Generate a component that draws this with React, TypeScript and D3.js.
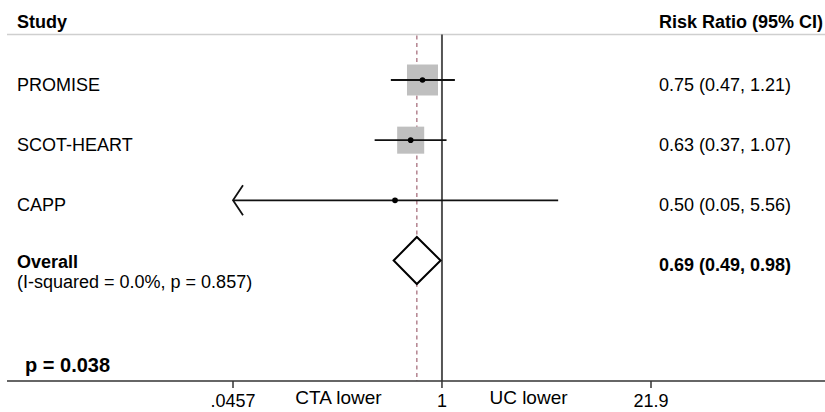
import React from 'react';
import * as d3 from 'd3';

const studies = ['PROMISE', 'SCOT-HEART', 'CAPP'];
const rr = [0.75, 0.63, 0.5];
const lower = [0.47, 0.37, 0.045];
const upper = [1.21, 1.07, 5.56];
const weights = [56.0, 42.6, 1.4];
const ciLabels = ['0.75 (0.47, 1.21)', '0.63 (0.37, 1.07)', '0.50 (0.05, 5.56)'];

const overall = { rr: 0.69, lower: 0.49, upper: 0.98 };
const overallLabel = '0.69 (0.49, 0.98)';
const heterogeneity = '(I-squared = 0.0%, p = 0.857)';
const pValue = 'p = 0.038';

const tickValues = [0.0457, 1, 21.9];
const tickLabels = ['.0457', '1', '21.9'];
const sideLabels = ['CTA lower', 'UC lower'];

const W = 825;
const H = 412;
const FONT = '"Liberation Sans", Arial, Helvetica, sans-serif';

export default function App() {
  const x = d3.scaleLog().domain([0.0457, 21.9]).range([233, 651]);
  const y = d3.scaleLinear().domain([0, 3]).range([80, 260.5]);
  const side = d3.scaleSqrt().domain([0, 56]).range([0, 31]);

  const headerY = 34.5;
  const axisY = 381;
  const labelX = 17;
  const ciX = 659;

  const ox = x(overall.rr);
  const oy = y(3);
  const diamond = d3.line()([
    [x(overall.lower), oy],
    [ox, oy - 23.5],
    [x(overall.upper), oy],
    [ox, oy + 23.5],
  ]) + 'Z';

  return (
    <div style={{ position: 'absolute', left: 0, top: 0 }}>
      <svg width={W} height={H} style={{ display: 'block', background: '#fff' }} fontFamily={FONT}>
        {/* header */}
        <text x={labelX} y={28} fontSize={18} fontWeight="bold">Study</text>
        <text x={ciX} y={28} fontSize={18} fontWeight="bold">Risk Ratio (95% CI)</text>
        <line x1={7} x2={W} y1={headerY} y2={headerY} stroke="#cfcfcf" strokeWidth={1.5} />

        {/* reference lines */}
        <line x1={x(1)} x2={x(1)} y1={headerY} y2={axisY} stroke="#555" strokeWidth={2} />
        <line x1={ox} x2={ox} y1={headerY + 1} y2={axisY} stroke="#a8707e" strokeWidth={1.3} strokeDasharray="4,3.5" />

        {/* studies */}
        {studies.map((s, i) => {
          const cy = y(i);
          const sz = side(weights[i]);
          const lo = Math.max(lower[i], 0.0457);
          const clipped = lower[i] < 0.0457;
          return (
            <g key={s}>
              <rect x={x(rr[i]) - sz / 2} y={cy - sz / 2} width={sz} height={sz} fill="#bfbfbf" />
              <line x1={x(lo)} x2={x(upper[i])} y1={cy} y2={cy} stroke="#111" strokeWidth={1.8} />
              {clipped && (
                <polyline
                  points={`${x(lo) + 10},${cy - 15} ${x(lo)},${cy} ${x(lo) + 10},${cy + 15}`}
                  fill="none" stroke="#111" strokeWidth={1.8}
                />
              )}
              <circle cx={x(rr[i])} cy={cy} r={2.8} fill="#000" />
              <text x={labelX} y={cy + 10.7} fontSize={18}>{s}</text>
              <text x={ciX} y={cy + 10.7} fontSize={18}>{ciLabels[i]}</text>
            </g>
          );
        })}

        {/* overall */}
        <path d={diamond} fill="#fff" stroke="#000" strokeWidth={2} strokeLinejoin="miter" />
        <text x={labelX} y={oy + 7.5} fontSize={18} fontWeight="bold">Overall</text>
        <text x={labelX} y={oy + 27} fontSize={18}>{heterogeneity}</text>
        <text x={ciX} y={oy + 10.2} fontSize={18} fontWeight="bold">{overallLabel}</text>

        {/* p value */}
        <text x={25} y={372} fontSize={20} fontWeight="bold">{pValue}</text>

        {/* axis */}
        <line x1={7} x2={W} y1={axisY} y2={axisY} stroke="#333" strokeWidth={1.6} />
        {tickValues.map((t, i) => (
          <g key={t}>
            <line x1={x(t)} x2={x(t)} y1={axisY} y2={axisY + 7} stroke="#333" strokeWidth={1.5} />
            <text x={x(t)} y={407} fontSize={18} textAnchor="middle">{tickLabels[i]}</text>
          </g>
        ))}
        <text x={(x(tickValues[0]) + x(1)) / 2 + 1} y={404} fontSize={19} textAnchor="middle">{sideLabels[0]}</text>
        <text x={(x(1) + x(tickValues[2])) / 2 - 18} y={404} fontSize={19} textAnchor="middle">{sideLabels[1]}</text>
      </svg>
    </div>
  );
}
